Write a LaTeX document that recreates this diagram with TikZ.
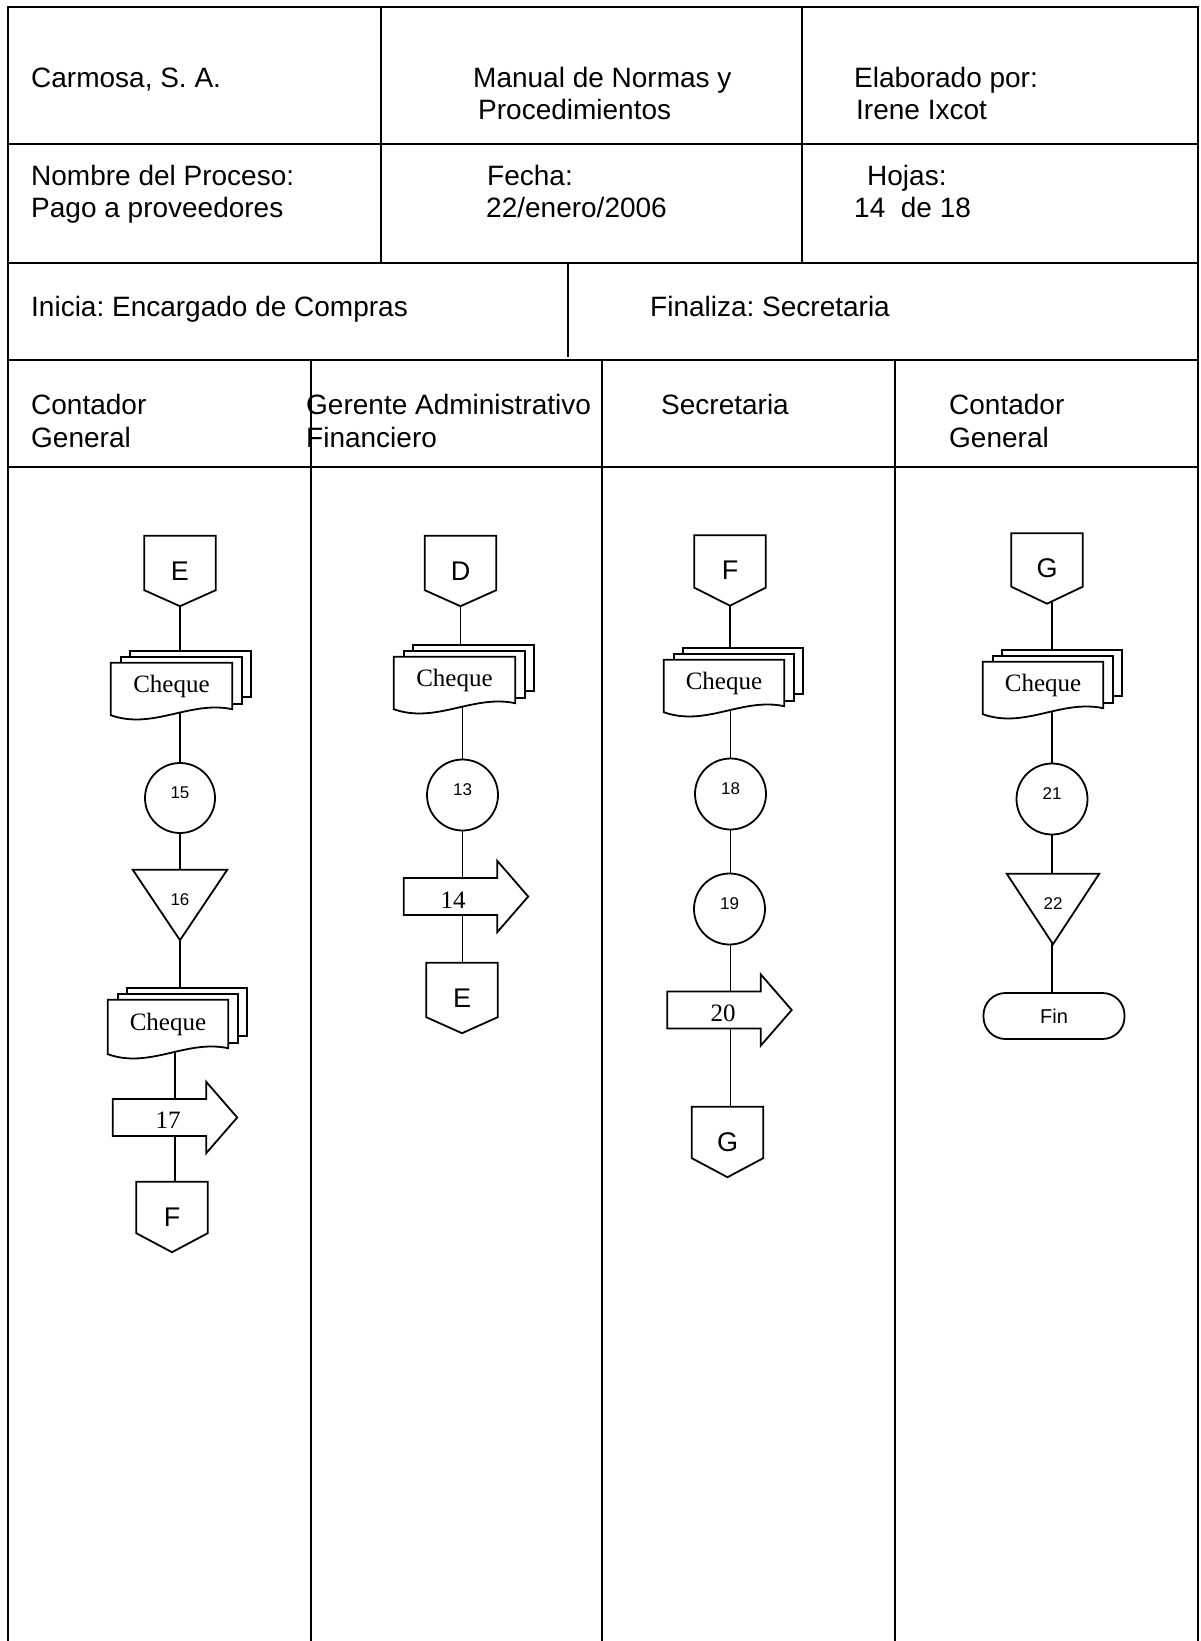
\documentclass[tikz,border=0pt]{standalone}
\usepackage{fontspec}
\setmainfont{Liberation Sans}
\newfontfamily\serifTNR{Liberation Serif}
\usetikzlibrary{calc}
\pgfdeclarelayer{connlayer}
\pgfdeclarelayer{shapelayer}
\pgfsetlayers{connlayer,shapelayer,main}
\frenchspacing

\tikzset{
 gridline/.style={line width=2pt, draw=black},
 shp/.style={line width=1.8pt, draw=black, fill=white, line join=miter},
 conn/.style={line width=1.8pt, draw=black},
 hdr/.style={anchor=base west, inner sep=0pt, font=\fontsize{28}{32}\selectfont},
 docn/.style={inner sep=0pt, minimum width=121pt, minimum height=46pt, font=\serifTNR\fontsize{25}{28}\selectfont},
 offp/.style={inner sep=0pt, minimum width=71pt, minimum height=70pt, font=\fontsize{27}{30}\selectfont},
 circ/.style={circle, draw=black, fill=white, line width=1.8pt, inner sep=0pt, minimum size=71pt, font=\fontsize{17}{20}\selectfont, text depth=10pt},
 tri/.style={inner sep=0pt, minimum width=94pt, minimum height=70pt, font=\fontsize{17}{20}\selectfont, text depth=10pt},
 arrn/.style={inner sep=0pt, minimum width=124pt, minimum height=71pt},
 arrt/.style={inner sep=0pt, font=\serifTNR\fontsize{25}{28}\selectfont},
 term/.style={draw=black, fill=white, line width=1.8pt, rounded corners=22pt, minimum width=141pt, minimum height=46pt, inner sep=0pt, font=\fontsize{20}{24}\selectfont},
}

\newcommand\offpage[2]{%
 \begin{pgfonlayer}{shapelayer}
  \draw[shp] (#1.north west) -- (#1.north east) -- ($(#1.south east)+(0,-#2)$) -- (#1.south) -- ($(#1.south west)+(0,-#2)$) -- cycle;
 \end{pgfonlayer}}
\newcommand\multidoc[1]{%
 \begin{pgfonlayer}{shapelayer}
  \draw[shp] ($(#1.north west)+(19,-12)$) rectangle ($(#1.south east)+(19,-12)$);
  \draw[shp] ($(#1.north west)+(10,-6)$) rectangle ($(#1.south east)+(10,-5)$);
  \draw[shp] (#1.north west) -- (#1.north east) -- (#1.south east) .. controls ($(#1.south east)+(-42,-9)$) and ($(#1.south west)+(42,21)$) .. ($(#1.south west)+(0,6)$) -- cycle;
 \end{pgfonlayer}}
\newcommand\tridown[1]{%
 \begin{pgfonlayer}{shapelayer}
  \draw[shp] (#1.north west) -- (#1.north east) -- (#1.south) -- cycle;
 \end{pgfonlayer}}
\newcommand\blockarrow[1]{%
 \begin{pgfonlayer}{shapelayer}
  \draw[shp] ($(#1.west)+(0,-18.5)$) -- ($(#1.east)+(-31,-18.5)$) -- ($(#1.north east)+(-31,0)$) -- (#1.east) -- ($(#1.south east)+(-31,0)$) -- ($(#1.east)+(-31,18.5)$) -- ($(#1.west)+(0,18.5)$) -- cycle;
 \end{pgfonlayer}}

\begin{document}
\begin{tikzpicture}[x=1pt,y=-1pt]
\useasboundingbox (0,0) rectangle (1200,1641);
% grid
\draw[gridline] (7.5,1641) -- (7.5,7) -- (1197.5,7) -- (1197.5,1641);
\foreach \yy in {144,263,360,467} \draw[gridline] (7.5,\yy) -- (1197.5,\yy);
\draw[gridline] (381,7) -- (381,263);
\draw[gridline] (802,7) -- (802,263);
\draw[gridline] (568,263) -- (568,357);
\foreach \xx in {311,602,895} \draw[gridline] (\xx,360) -- (\xx,1641);

% header texts
\node[hdr] (h1) at (31,87) {Carmosa, S. A.};
\node[hdr] (h2) at (473,87) {Manual de Normas y};
\node[hdr] (h3) at (478,119) {Procedimientos};
\node[hdr] (h4) at (854,87) {Elaborado por:};
\node[hdr] (h5) at (856,119) {Irene Ixcot};
\node[hdr] (h6) at (31,185) {Nombre del Proceso:};
\node[hdr] (h7) at (31,217) {Pago a proveedores};
\node[hdr] (h8) at (487,185) {Fecha:};
\node[hdr] (h9) at (486,217) {22/enero/2006};
\node[hdr] (h10) at (867,185) {Hojas:};
\node[hdr] (h11) at (854,217) {14\ \ de 18};
\node[hdr] (h12) at (31,316) {Inicia: Encargado de Compras};
\node[hdr] (h13) at (650,316) {Finaliza: Secretaria};
\node[hdr] (l1a) at (31,414) {Contador};
\node[hdr] (l1b) at (31,447) {General};
\node[hdr] (l2a) at (306,414) {Gerente Administrativo};
\node[hdr] (l2b) at (306,447) {Financiero};
\node[hdr] (l3a) at (661,414) {Secretaria};
\node[hdr] (l4a) at (949,414) {Contador};
\node[hdr] (l4b) at (949,447) {General};

% lane 1
\node[offp] (E1) at (180,571) {E}; \offpage{E1}{16}
\node[docn] (d1) at (171.5,686) {Cheque}; \multidoc{d1}
\node[circ, minimum size=70pt] (c15) at (180,798) {15};
\node[tri] (t16) at (180,905) {16}; \tridown{t16}
\node[docn, minimum width=120pt, minimum height=48pt] (d2) at (168,1024) {Cheque}; \multidoc{d2}
\node[arrn] (a17) at (175,1117.5) {}; \blockarrow{a17}
\node[arrt] (a17t) at (168,1120) {17};
\node[offp] (F1) at (172,1217) {F}; \offpage{F1}{19}

% lane 2
\node[offp] (D1) at (460.5,571) {D}; \offpage{D1}{16}
\node[docn] (d3) at (454.5,680) {Cheque}; \multidoc{d3}
\node[circ] (c13) at (462.5,795) {13};
\node[arrn] (a14) at (466,896.5) {}; \blockarrow{a14}
\node[arrt] (a14t) at (453,900) {14};
\node[offp] (E2) at (462,998) {E}; \offpage{E2}{16}

% lane 3
\node[offp] (F2) at (730,570.5) {F}; \offpage{F2}{18}
\node[docn, minimum width=120pt] (d4) at (724,683) {Cheque}; \multidoc{d4}
\node[circ] (c18) at (730.5,794) {18};
\node[circ] (c19) at (729.5,909) {19};
\node[arrn] (a20) at (729.5,1010) {}; \blockarrow{a20}
\node[arrt] (a20t) at (723,1013) {20};
\node[offp] (G1) at (727.5,1142) {G}; \offpage{G1}{19}

% lane 4
\node[offp] (G2) at (1047,568.5) {G}; \offpage{G2}{17}
\node[docn, minimum width=120pt, minimum height=46pt] (d5) at (1043,685) {Cheque}; \multidoc{d5}
\node[circ] (c21) at (1052,799) {21};
\node[tri, minimum width=92pt, minimum height=70pt] (t22) at (1053,909) {22}; \tridown{t22}
\node[term] (fin) at (1054,1016) {Fin};

% connectors
\begin{pgfonlayer}{connlayer}
\draw[conn] (E1.center) -- (E1.center |- d1.center);
\draw[conn] (c15.center |- d1.center) -- (c15.center) -- (t16.center) -- (t16.center |- d2.center);
\draw[conn] (a17.center |- d2.center) -- (a17.center) -- (a17.center |- F1.center);
\draw[conn] (D1.center) -- (D1.center |- d3.center);
\draw[conn] (c13.center |- d3.center) -- (c13.center) -- (c13.center |- E2.center);
\draw[conn] (F2.center) -- (F2.center |- d4.center);
\draw[conn] (c18.center |- d4.center) -- (c18.center) -- (c18.center |- G1.center);
\draw[conn] (c21.center |- G2.center) -- (c21.center) -- (c21.center |- fin.center);
\end{pgfonlayer}
\end{tikzpicture}
\end{document}
